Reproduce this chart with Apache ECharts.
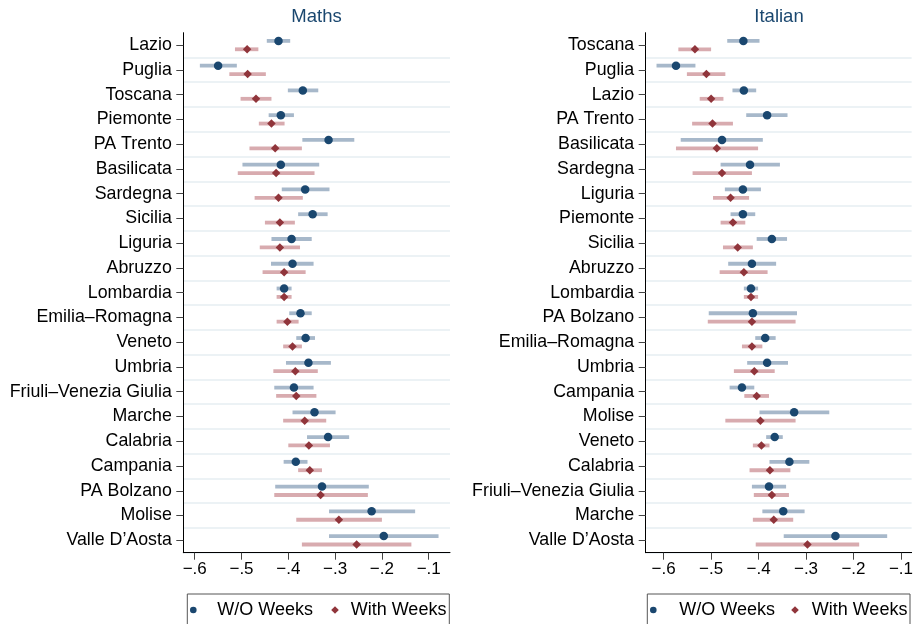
<!DOCTYPE html>
<html>
<head>
<meta charset="utf-8">
<script src="https://cdn.jsdelivr.net/npm/echarts@6/dist/echarts.min.js"></script>
<style>
  html, body { margin: 0; padding: 0; background: #fff; }
  #chart { width: 916px; height: 624px; }
</style>
</head>
<body>
<div id="chart"></div>
<script>
// Regional estimates with 95% intervals, without and with the weeks control.
const mathsRegions = ['Lazio', 'Puglia', 'Toscana', 'Piemonte', 'PA Trento', 'Basilicata', 'Sardegna', 'Sicilia',
  'Liguria', 'Abruzzo', 'Lombardia', 'Emilia–Romagna', 'Veneto', 'Umbria', 'Friuli–Venezia Giulia', 'Marche',
  'Calabria', 'Campania', 'PA Bolzano', 'Molise', 'Valle D’Aosta'];
const mathsNoWeeks   = [-0.421, -0.550, -0.369, -0.416, -0.314, -0.416, -0.364, -0.348, -0.393, -0.391, -0.409, -0.374, -0.363, -0.357, -0.388, -0.344, -0.315, -0.384, -0.328, -0.222, -0.196];
const mathsNoWeeksLo = [-0.446, -0.589, -0.401, -0.442, -0.370, -0.498, -0.414, -0.379, -0.436, -0.437, -0.425, -0.398, -0.383, -0.405, -0.430, -0.391, -0.360, -0.410, -0.428, -0.313, -0.313];
const mathsNoWeeksHi = [-0.396, -0.510, -0.336, -0.388, -0.259, -0.334, -0.312, -0.316, -0.350, -0.346, -0.393, -0.350, -0.343, -0.309, -0.346, -0.299, -0.270, -0.359, -0.228, -0.129, -0.079];
const mathsWeeks     = [-0.488, -0.487, -0.469, -0.436, -0.428, -0.426, -0.421, -0.418, -0.418, -0.409, -0.409, -0.402, -0.391, -0.385, -0.383, -0.365, -0.356, -0.354, -0.331, -0.292, -0.254];
const mathsWeeksLo   = [-0.514, -0.526, -0.502, -0.463, -0.483, -0.508, -0.472, -0.450, -0.461, -0.455, -0.425, -0.425, -0.411, -0.432, -0.426, -0.411, -0.400, -0.379, -0.430, -0.383, -0.371];
const mathsWeeksHi   = [-0.464, -0.448, -0.436, -0.408, -0.371, -0.344, -0.369, -0.386, -0.375, -0.363, -0.393, -0.378, -0.371, -0.337, -0.340, -0.319, -0.311, -0.328, -0.230, -0.200, -0.137];

const italianRegions = ['Toscana', 'Puglia', 'Lazio', 'PA Trento', 'Basilicata', 'Sardegna', 'Liguria', 'Piemonte',
  'Sicilia', 'Abruzzo', 'Lombardia', 'PA Bolzano', 'Emilia–Romagna', 'Umbria', 'Campania', 'Molise', 'Veneto',
  'Calabria', 'Friuli–Venezia Giulia', 'Marche', 'Valle D’Aosta'];
const italianNoWeeks   = [-0.432, -0.574, -0.431, -0.382, -0.477, -0.418, -0.433, -0.433, -0.372, -0.414, -0.416, -0.412, -0.386, -0.382, -0.435, -0.325, -0.366, -0.335, -0.378, -0.348, -0.238];
const italianNoWeeksLo = [-0.466, -0.615, -0.455, -0.426, -0.564, -0.480, -0.471, -0.459, -0.404, -0.464, -0.431, -0.505, -0.407, -0.424, -0.461, -0.398, -0.384, -0.377, -0.414, -0.392, -0.347];
const italianNoWeeksHi = [-0.398, -0.533, -0.405, -0.339, -0.391, -0.355, -0.395, -0.407, -0.340, -0.363, -0.401, -0.319, -0.364, -0.338, -0.409, -0.251, -0.349, -0.293, -0.342, -0.303, -0.129];
const italianWeeks     = [-0.534, -0.510, -0.500, -0.497, -0.488, -0.477, -0.459, -0.454, -0.444, -0.431, -0.416, -0.414, -0.414, -0.409, -0.404, -0.396, -0.394, -0.376, -0.372, -0.368, -0.297];
const italianWeeksLo   = [-0.569, -0.551, -0.524, -0.540, -0.574, -0.539, -0.496, -0.480, -0.475, -0.482, -0.431, -0.507, -0.435, -0.452, -0.430, -0.470, -0.412, -0.419, -0.410, -0.412, -0.406];
const italianWeeksHi   = [-0.500, -0.470, -0.474, -0.454, -0.401, -0.414, -0.420, -0.428, -0.412, -0.381, -0.401, -0.322, -0.392, -0.366, -0.378, -0.322, -0.377, -0.333, -0.336, -0.327, -0.188];

const xTicks = [-0.6, -0.5, -0.4, -0.3, -0.2, -0.1];

const NAVY = '#1a476f';
const MAROON = '#90353b';
const NAVY_CI = '#a7b8ca';
const MAROON_CI = '#d8abaf';
const FONT = '"Liberation Sans", Arial, Helvetica, sans-serif';

const chart = echarts.init(document.getElementById('chart'), null, { renderer: 'canvas' });

function tickLabel(v) {
  const s = Math.abs(v).toFixed(1).replace(/^0/, '');
  return (v < 0 ? '−' : '') + s;
}

// Horizontal interval bar, shifted up or down inside the category band.
function ciRenderer(offset, color) {
  return function (params, api) {
    const row = api.value(2);
    const a = api.coord([api.value(0), row]);
    const b = api.coord([api.value(1), row]);
    return {
      type: 'rect',
      shape: { x: a[0], y: a[1] + offset - 1.9, width: b[0] - a[0], height: 3.8 },
      style: { fill: color }
    };
  };
}

function xAxisFor(gridIndex, min, max) {
  return {
    type: 'value', gridIndex, min, max,
    splitLine: { show: false },
    axisLine: { show: true, onZero: false, lineStyle: { color: '#000', width: 1 } },
    axisTick: { show: true, length: 7, customValues: xTicks, lineStyle: { color: '#444', width: 1 } },
    axisLabel: { customValues: xTicks, formatter: tickLabel, margin: 8, fontFamily: FONT, fontSize: 17, color: '#000' }
  };
}

function yAxisFor(gridIndex, regions) {
  return {
    type: 'category', gridIndex, data: regions, inverse: true, boundaryGap: true,
    axisLine: { show: true, lineStyle: { color: '#000', width: 1 } },
    axisTick: { show: true, alignWithLabel: true, length: 7, lineStyle: { color: '#444', width: 1 } },
    axisLabel: { margin: 11.5, fontFamily: FONT, fontSize: 17.8, color: '#000', interval: 0 },
    splitLine: { show: true, interval: (i) => i > 0, lineStyle: { color: '#e6eef2', width: 1.6 } }
  };
}

function panelSeries(axisIndex, est0, lo0, hi0, est1, lo1, hi1) {
  const rows = est0.map((_, i) => i);
  return [
    {
      type: 'custom', name: 'ci0', xAxisIndex: axisIndex, yAxisIndex: axisIndex,
      renderItem: ciRenderer(-4.2, NAVY_CI), encode: { x: [0, 1], y: 2 },
      data: rows.map(i => [lo0[i], hi0[i], i]), silent: true, z: 1
    },
    {
      type: 'custom', name: 'ci1', xAxisIndex: axisIndex, yAxisIndex: axisIndex,
      renderItem: ciRenderer(4.2, MAROON_CI), encode: { x: [0, 1], y: 2 },
      data: rows.map(i => [lo1[i], hi1[i], i]), silent: true, z: 1
    },
    {
      type: 'scatter', name: 'W/O Weeks', xAxisIndex: axisIndex, yAxisIndex: axisIndex,
      symbol: 'circle', symbolSize: 8.5, symbolOffset: [0, -4.2],
      itemStyle: { color: NAVY, opacity: 1 },
      data: rows.map(i => [est0[i], i]), z: 3
    },
    {
      type: 'scatter', name: 'With Weeks', xAxisIndex: axisIndex, yAxisIndex: axisIndex,
      symbol: 'diamond', symbolSize: 8.5, symbolOffset: [0, 4.2],
      itemStyle: { color: MAROON, opacity: 1 },
      data: rows.map(i => [est1[i], i]), z: 3
    }
  ];
}

function legendBox(x0, dotX, text1X, diamondX, text2X, width) {
  const cy = 610;
  return [
    { type: 'rect', shape: { x: x0, y: 594, width: width, height: 44 }, style: { fill: '#fff', stroke: '#555', lineWidth: 1 }, z: 10 },
    { type: 'circle', shape: { cx: dotX, cy: cy, r: 3.3 }, style: { fill: NAVY }, z: 11 },
    { type: 'text', x: text1X, y: cy, style: { text: 'W/O Weeks', font: '18px ' + FONT, fill: '#000', verticalAlign: 'middle', align: 'left' }, z: 11 },
    { type: 'polygon', shape: { points: [[diamondX, cy - 3.8], [diamondX + 3.8, cy], [diamondX, cy + 3.8], [diamondX - 3.8, cy]] }, style: { fill: MAROON }, z: 11 },
    { type: 'text', x: text2X, y: cy, style: { text: 'With Weeks', font: '18px ' + FONT, fill: '#000', verticalAlign: 'middle', align: 'left' }, z: 11 }
  ];
}

const option = {
  animation: false,
  backgroundColor: '#fff',
  grid: [
    { left: 183.3, top: 32.7, width: 266.7, height: 520, containLabel: false },
    { left: 645.7, top: 32.7, width: 267, height: 520, containLabel: false }
  ],
  xAxis: [xAxisFor(0, -0.6244, -0.0545), xAxisFor(1, -0.6378, -0.0775)],
  yAxis: [yAxisFor(0, mathsRegions), yAxisFor(1, italianRegions)],
  series: [
    ...panelSeries(0, mathsNoWeeks, mathsNoWeeksLo, mathsNoWeeksHi, mathsWeeks, mathsWeeksLo, mathsWeeksHi),
    ...panelSeries(1, italianNoWeeks, italianNoWeeksLo, italianNoWeeksHi, italianWeeks, italianWeeksLo, italianWeeksHi)
  ],
  graphic: [
    { type: 'text', x: 316.5, y: 17, style: { text: 'Maths', font: '18.5px ' + FONT, fill: NAVY, align: 'center', verticalAlign: 'middle' } },
    { type: 'text', x: 779, y: 17, style: { text: 'Italian', font: '18.5px ' + FONT, fill: NAVY, align: 'center', verticalAlign: 'middle' } },
    ...legendBox(187.3, 193.3, 217.3, 335, 350.7, 262),
    ...legendBox(647.3, 653.3, 679.3, 795, 811.7, 262.7)
  ]
};

chart.setOption(option);
</script>
</body>
</html>
